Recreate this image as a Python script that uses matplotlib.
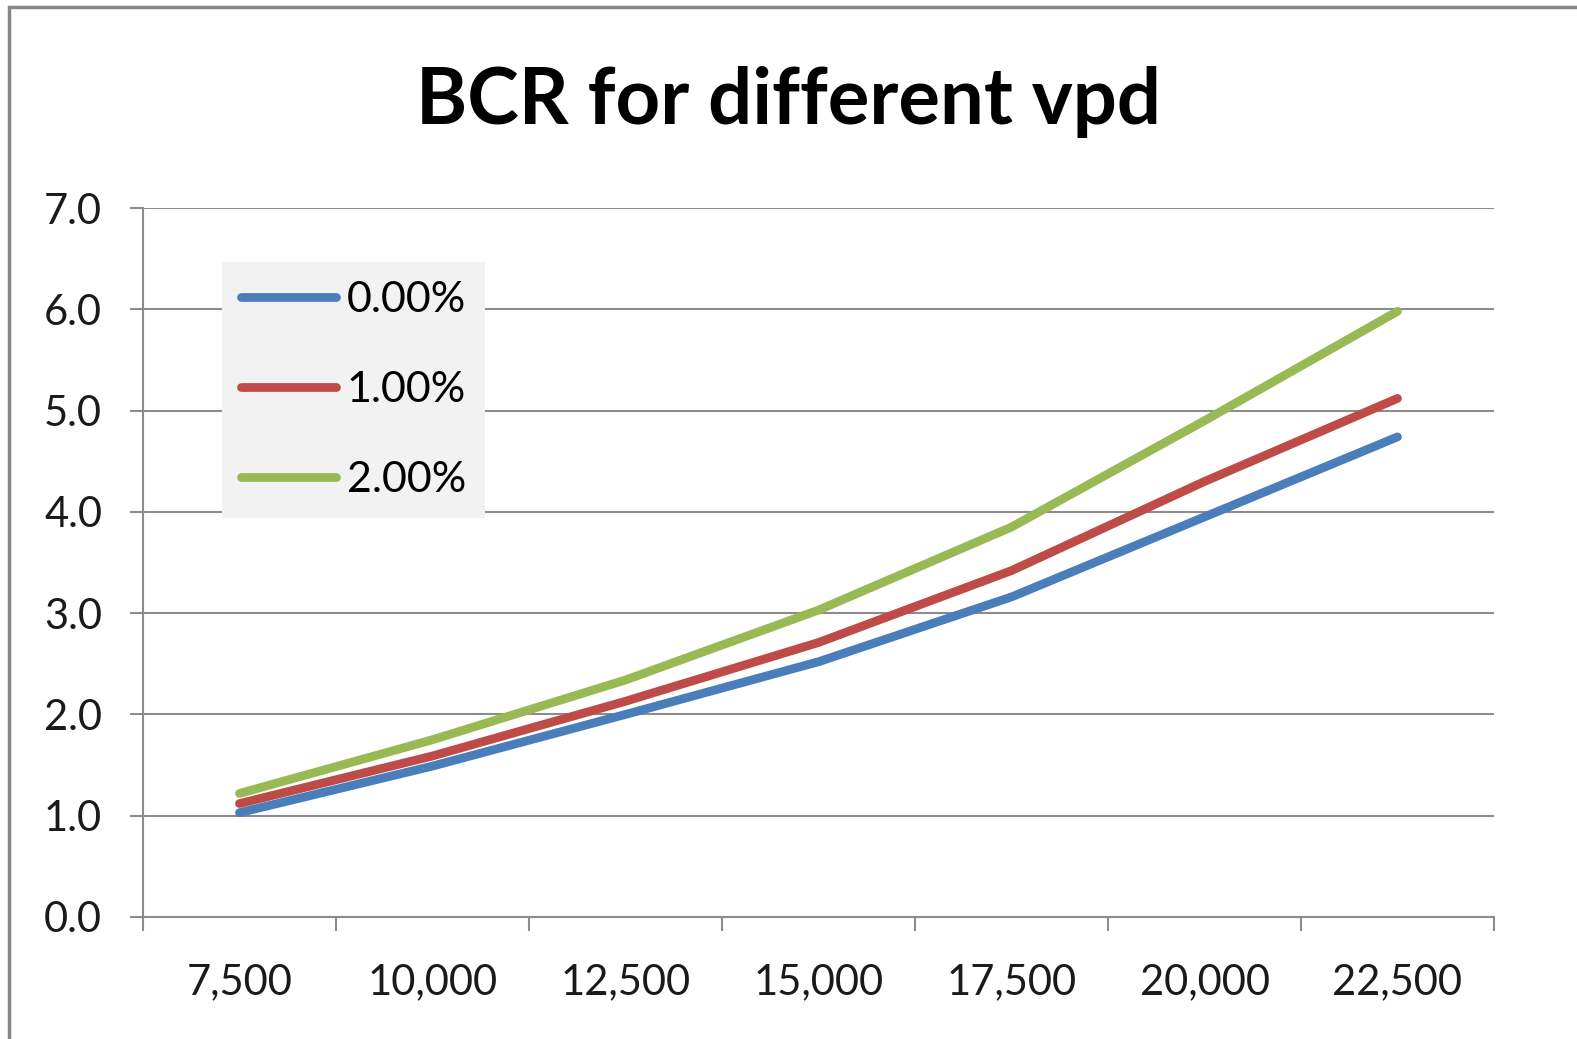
import matplotlib
matplotlib.use("Agg")
import matplotlib.pyplot as plt
from matplotlib.patches import Rectangle

categories = ["7,500", "10,000", "12,500", "15,000", "17,500", "20,000", "22,500"]
series_names = ["0.00%", "1.00%", "2.00%"]
bcr_0 = [1.03, 1.49, 2.00, 2.52, 3.16, 3.95, 4.74]
bcr_1 = [1.12, 1.59, 2.13, 2.71, 3.42, 4.30, 5.12]
bcr_2 = [1.22, 1.75, 2.34, 3.03, 3.85, 4.90, 5.98]
colors = ["#4A7EBB", "#BE4B48", "#98B954"]

plt.rcParams["font.family"] = ["Lato", "DejaVu Sans"]

fig = plt.figure(figsize=(15.77, 10.39), dpi=100)
ax = fig.add_axes([143 / 1577, 1 - 917 / 1039, 1351 / 1577, 709 / 1039])

x = list(range(len(categories)))
for vals, name, c in zip([bcr_0, bcr_1, bcr_2], series_names, colors):
    ax.plot(x, vals, color=c, lw=6.3, solid_capstyle="round", solid_joinstyle="round", label=name)

ax.set_xlim(-0.5, len(categories) - 0.5)
ax.set_ylim(0, 7)
ax.set_yticks([i for i in range(8)])
ax.set_yticklabels([f"{i:.1f}" for i in range(8)])
ax.set_xticks([i - 0.5 for i in range(len(categories) + 1)])
ax.set_xticklabels([])
ax.set_xticks(x, minor=True)
ax.set_xticklabels(categories, minor=True)

ax.grid(axis="y", color="#8C8C8C", lw=1.5)
ax.set_axisbelow(True)
for s in ["top", "right"]:
    ax.spines[s].set_visible(False)
for s in ["left", "bottom"]:
    ax.spines[s].set_color("#8C8C8C")
    ax.spines[s].set_linewidth(1.5)

ax.tick_params(axis="y", which="major", length=9.5, width=1.5, color="#8C8C8C",
               labelsize=30, pad=20, labelcolor="#1a1a1a")
ax.tick_params(axis="x", which="major", length=10, width=1.5, color="#8C8C8C")
ax.tick_params(axis="x", which="minor", length=0, labelsize=30, pad=33, labelcolor="#1a1a1a")

leg = ax.legend(loc="upper left", bbox_to_anchor=((222 - 143) / 1351, (917 - 262) / 709),
                fontsize=31, frameon=True, fancybox=False, handlelength=2.2,
                handletextpad=0.25, labelspacing=1.2, borderpad=0.45, borderaxespad=0)
leg.get_frame().set_facecolor("#F2F2F2")
leg.get_frame().set_edgecolor("none")
leg.get_frame().set_alpha(1)

fig.text(0.5, 1 - 102 / 1039, "BCR for different vpd", ha="center", va="center",
         fontsize=56, fontweight="bold")

fig.patches.append(Rectangle((9 / 1577, -0.1), 1.2, 1.1 - 7 / 1039, transform=fig.transFigure,
                             fill=False, edgecolor="#878787", lw=2.5))

fig.savefig("out.png", dpi=100)
